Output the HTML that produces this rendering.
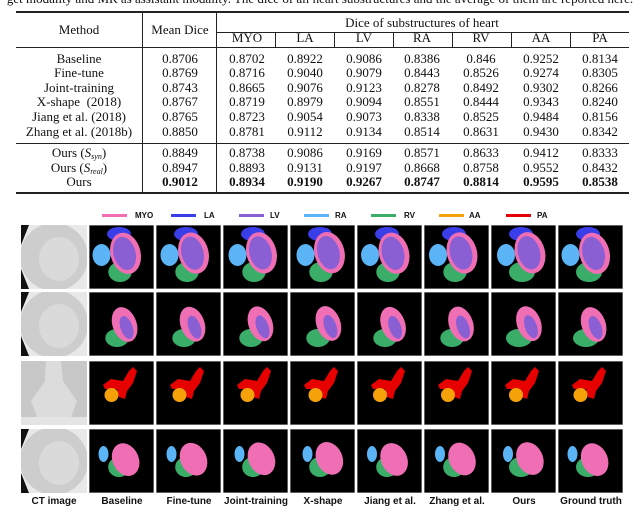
<!DOCTYPE html>
<html><head><meta charset="utf-8"><style>
body{margin:0;width:640px;height:509px;background:#fff;overflow:hidden;position:relative;font-family:"Liberation Serif",serif;color:#111}
.t{position:absolute;font-size:13px;white-space:nowrap;transform:translateX(-50%);line-height:14px;height:14px}
.t sub{font-size:8px;line-height:0;vertical-align:-2px}
.r{position:absolute;background:#222}
.lg{position:absolute;font:bold 8px "Liberation Sans",sans-serif;top:211px}
.sw{position:absolute;height:3px;top:214px;width:25px}
.lab{position:absolute;top:496px;font:bold 10px "Liberation Sans",sans-serif;transform:translateX(-50%);white-space:nowrap}
</style></head><body>
<div class="t" style="left:320px;top:-8px;font-size:13px">get modality and MR as assistant modality. The dice of all heart substructures and the average of them are reported here.</div>
<div class="r" style="left:16px;top:11px;width:613px;height:2px"></div>
<div class="r" style="left:142px;top:13px;width:1px;height:35px"></div>
<div class="r" style="left:216px;top:13px;width:1px;height:35px"></div>
<div class="r" style="left:216px;top:32px;width:413px;height:1px"></div>
<div class="r" style="left:16px;top:47px;width:613px;height:1px"></div>
<div class="r" style="left:16px;top:143px;width:613px;height:1px"></div>
<div class="r" style="left:16px;top:192px;width:613px;height:2px"></div>
<div class="r" style="left:142px;top:48px;width:1px;height:144px"></div>
<div class="r" style="left:216px;top:48px;width:1px;height:144px"></div>
<div class="t" style="left:79px;top:23px">Method</div>
<div class="t" style="left:180px;top:23px">Mean Dice</div>
<div class="t" style="left:422px;top:16px">Dice of substructures of heart</div>
<div id="tbl"></div>
<div id="grid"></div>
<script>
const cols=[247,305,364,422,481,541,600];
const colNames=['MYO','LA','LV','RA','RV','AA','PA'];
const seps=[275,334,393,452,511,570];
const rows=[
['Baseline','0.8706','0.8702','0.8922','0.9086','0.8386','0.846','0.9252','0.8134'],
['Fine-tune','0.8769','0.8716','0.9040','0.9079','0.8443','0.8526','0.9274','0.8305'],
['Joint-training','0.8743','0.8665','0.9076','0.9123','0.8278','0.8492','0.9302','0.8266'],
['X-shape&nbsp; (2018)','0.8767','0.8719','0.8979','0.9094','0.8551','0.8444','0.9343','0.8240'],
['Jiang et al. (2018)','0.8765','0.8723','0.9054','0.9073','0.8338','0.8525','0.9484','0.8156'],
['Zhang et al. (2018b)','0.8850','0.8781','0.9112','0.9134','0.8514','0.8631','0.9430','0.8342'],
['Ours (<i>S<sub>syn</sub></i>)','0.8849','0.8738','0.9086','0.9169','0.8571','0.8633','0.9412','0.8333'],
['Ours (<i>S<sub>real</sub></i>)','0.8947','0.8893','0.9131','0.9197','0.8668','0.8758','0.9552','0.8432'],
['Ours','0.9012','0.8934','0.9190','0.9267','0.8747','0.8814','0.9595','0.8538']];
const rowY=[52,66,81,95,110,125,146,161,175];
let h='';
seps.forEach(x=>{h+=`<div class="r" style="left:${x}px;top:33px;width:1px;height:15px"></div>`;});
colNames.forEach((n,i)=>{h+=`<div class="t" style="left:${cols[i]}px;top:31px">${n}</div>`;});
rows.forEach((r,ri)=>{
 const b=ri==8?'font-weight:bold;':'';
 h+=`<div class="t" style="left:79px;top:${rowY[ri]}px">${r[0]}</div>`;
 h+=`<div class="t" style="left:180px;top:${rowY[ri]}px;${b}">${r[1]}</div>`;
 for(let i=0;i<7;i++)h+=`<div class="t" style="left:${cols[i]}px;top:${rowY[ri]}px;${b}">${r[i+2]}</div>`;
});
document.getElementById('tbl').innerHTML=h;

const C={MYO:'#f06eb4',LA:'#3a3ee8',LV:'#8b5fd4',RA:'#5ab4f5',RV:'#3aad68',AA:'#f5a10a',PA:'#e60000'};
const lx=[[102,135],[171,204],[239,270],[304,335],[371,404],[439,469],[506,537]];
let g='';
Object.keys(C).forEach((k,i)=>{
 g+=`<div class="sw" style="left:${lx[i][0]}px;background:${C[k]}"></div>`;
 g+=`<div class="lg" style="left:${lx[i][1]}px">${k}</div>`;
});
const rowTops=[225,292,361,429];const rh=64;
const colX=[89,156,223,290,357,424,491,558];
const labels=['Baseline','Fine-tune','Joint-training','X-shape','Jiang et al.','Zhang et al.','Ours','Ground truth'];
function seg(r,c){
 const j=(c*37%7-3)*0.5, s=c>=6?1:0.9;
 if(r==0)return `<ellipse cx="${14+j}" cy="30" rx="9" ry="11" fill="${C.RA}"/><ellipse cx="30" cy="9" rx="12" ry="7" fill="${C.LA}"/><ellipse cx="31" cy="47" rx="${13*s}" ry="10" fill="${C.RV}"/><ellipse cx="${38+j}" cy="28" rx="15" ry="21" fill="${C.MYO}" transform="rotate(-15 38 28)"/><ellipse cx="${37+j}" cy="28" rx="11" ry="17" fill="${C.LV}" transform="rotate(-15 37 28)"/>`;
 if(r==1)return `<ellipse cx="28" cy="46" rx="${13*s}" ry="9" fill="${C.RV}"/><ellipse cx="${37+j}" cy="32" rx="12" ry="18" fill="${C.MYO}" transform="rotate(-20 37 32)"/><ellipse cx="${39+j}" cy="35" rx="6" ry="12" fill="${C.LV}" transform="rotate(-20 39 35)"/>`;
 if(r==2)return `<path d="M14 24 L22 18 L34 20 L40 10 L44 6 L48 10 L44 22 L38 30 L36 38 L30 36 L28 28 L16 28 Z" fill="${C.PA}"/><circle cx="${24+j}" cy="34" r="7" fill="${C.AA}"/>`;
 return `<ellipse cx="${16+j}" cy="25" rx="5" ry="8" fill="${C.RA}"/><ellipse cx="30" cy="38" rx="${12*s}" ry="10" fill="${C.RV}"/><ellipse cx="${38+j}" cy="30" rx="13" ry="17" fill="${C.MYO}" transform="rotate(-25 38 30)"/>`;
}
rowTops.forEach((y,r)=>{
 let ct;
 if(r==2) ct=`<rect width="66" height="${rh}" fill="#c8c8c8"/><path d="M25 0 L40 0 L42 20 L56 40 L50 56 L16 56 L10 40 L24 20Z" fill="#dcdcdc"/><rect x="0" y="56" width="66" height="8" fill="#e4e4e4"/>`;
 else ct=`<rect width="66" height="${rh}" fill="#e8e8e8"/><ellipse cx="33" cy="32" rx="34" ry="34" fill="#cdcdcd"/><ellipse cx="38" cy="34" rx="20" ry="22" fill="#dadada"/><path d="M0 0 L8 0 L0 20Z M0 64 L8 64 L0 44Z" fill="#111"/>`;
 g+=`<svg style="position:absolute;left:21px;top:${y}px" width="66" height="${rh}">${ct}</svg>`;
 colX.forEach((x,c)=>{
  g+=`<svg style="position:absolute;left:${x}px;top:${y}px" width="65" height="${rh}"><rect width="65" height="${rh}" fill="#000" stroke="#bbb" stroke-width="1"/>${seg(r,c)}</svg>`;
 });
});
g+=`<div class="lab" style="left:54px">CT image</div>`;
labels.forEach((l,c)=>{g+=`<div class="lab" style="left:${colX[c]+33}px">${l}</div>`;});
document.getElementById('grid').innerHTML=g;
</script>
</body></html>
